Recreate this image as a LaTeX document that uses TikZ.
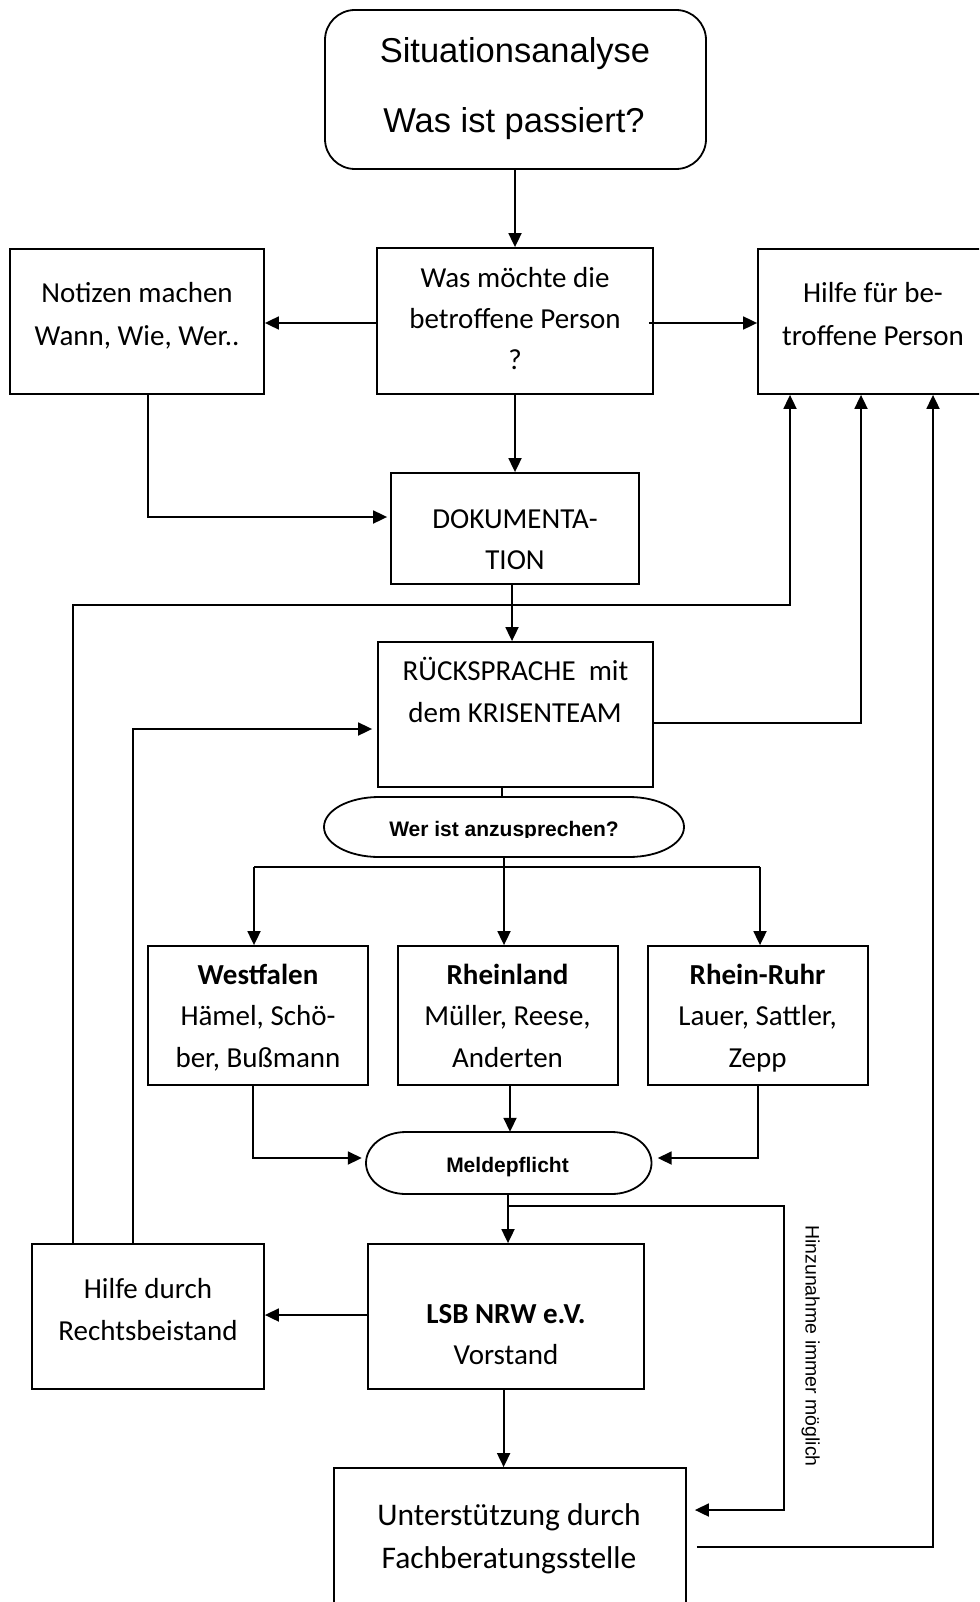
\documentclass[tikz,border=0pt]{standalone}
\usepackage{fontspec}
\setmainfont{Carlito}
\newfontfamily\arialf{Liberation Sans}
\usetikzlibrary{arrows.meta}
\begin{document}
\begin{tikzpicture}[x=1pt,y=-1pt,
  box/.style={draw, line width=1.8pt, rectangle, inner sep=0pt},
  hid/.style={draw=none, rectangle, inner sep=0pt},
  ln/.style={line width=1.8pt},
  arr/.style={line width=1.8pt, -{Triangle[length=14pt,width=13pt]}},
  txt/.style={inner sep=0pt, anchor=base, font=\fontsize{29}{35}\selectfont},
  txtB/.style={inner sep=0pt, anchor=base, font=\fontsize{29}{35}\selectfont\bfseries},
  txtU/.style={inner sep=0pt, anchor=base, font=\fontsize{31.5}{38}\selectfont},
  txtS/.style={inner sep=0pt, anchor=base, font=\arialf\fontsize{34.5}{40}\selectfont},
  txtE/.style={inner sep=0pt, anchor=base, font=\arialf\bfseries\fontsize{21}{25}\selectfont},
  txtH/.style={inner sep=0pt, anchor=base, font=\arialf\fontsize{19.5}{23}\selectfont}]
\useasboundingbox (0,0) rectangle (979,1602);
\fill[white] (0,0) rectangle (979,1602);
\clip (0,0) rectangle (979,1602);

% ---------- boxes ----------
\node[box, rounded corners=30pt, minimum width=381pt, minimum height=159pt] (sit) at (515.5,89.5) {};
\node[box, minimum width=254pt, minimum height=145pt] (notiz) at (137,321.5) {};
\node[box, minimum width=276pt, minimum height=146pt] (was) at (515,321) {};
\node[box, minimum width=230pt, minimum height=145pt] (hilfe) at (873,321.5) {};
\node[box, minimum width=248pt, minimum height=111pt] (doku) at (515,528.5) {};
\node[box, minimum width=275pt, minimum height=145pt] (rueck) at (515.5,714.5) {};
\node[hid, minimum width=360pt, minimum height=60pt] (wer) at (504,827) {};
\node[box, minimum width=220pt, minimum height=139pt] (west) at (258,1015.5) {};
\node[box, minimum width=220pt, minimum height=139pt] (rhein) at (508,1015.5) {};
\node[box, minimum width=220pt, minimum height=139pt] (ruhr) at (758,1015.5) {};
\node[hid, minimum width=285.5pt, minimum height=62pt] (meld) at (508.75,1163) {};
\node[box, minimum width=276pt, minimum height=145pt] (lsb) at (506,1316.5) {};
\node[box, minimum width=232pt, minimum height=145pt] (recht) at (148,1316.5) {};
\node[box, minimum width=352pt, minimum height=144pt] (unter) at (510,1540) {};

% capsules
\draw[ln] (379,797) -- (629,797) .. controls (659.4,797) and (684,810.4) .. (684,827)
  .. controls (684,843.6) and (659.4,857) .. (629,857) -- (379,857)
  .. controls (348.6,857) and (324,843.6) .. (324,827)
  .. controls (324,810.4) and (348.6,797) .. (379,797) -- cycle;
\draw[ln] (406,1132) -- (611.5,1132) .. controls (633.6,1132) and (651.5,1145.9) .. (651.5,1163)
  .. controls (651.5,1180.1) and (633.6,1194) .. (611.5,1194) -- (406,1194)
  .. controls (383.9,1194) and (366,1180.1) .. (366,1163)
  .. controls (366,1145.9) and (383.9,1132) .. (406,1132) -- cycle;

% ---------- texts ----------
\node[txtS] (sit1) at (515,63) {Situationsanalyse};
\node[txtS] (sit2) at (514,133) {Was ist passiert?};

\node[txt] (was1) at (515,287.5) {Was möchte die};
\node[txt] (was2) at (515,328.5) {betroffene Person};
\node[txt] (was3) at (515,369.5) {?};

\node[txt] (not1) at (137,303) {Notizen machen};
\node[txt] (not2) at (137,345) {Wann, Wie, Wer..};

\node[txt] (hil1) at (873,303) {Hilfe für be-};
\node[txt] (hil2) at (873,345) {troffene Person};

\node[txt] (dok1) at (515,528) {DOKUMENTA-};
\node[txt] (dok2) at (515,569) {TION};

\node[txt] (rue1) at (515.5,680) {RÜCKSPRACHE\ \ mit};
\node[txt] (rue2) at (515,722) {dem KRISENTEAM};

\begin{scope}
\clip (324,797) rectangle (684,837);
\node[txtE] (wer1) at (504,836) {Wer ist anzusprechen?};
\end{scope}

\node[txtB] (wes1) at (258,984) {Westfalen};
\node[txt] (wes2) at (258,1025.5) {Hämel, Schö-};
\node[txt] (wes3) at (258,1067) {ber, Bußmann};

\node[txtB] (rhe1) at (507.5,984) {Rheinland};
\node[txt] (rhe2) at (507.5,1025.5) {Müller, Reese,};
\node[txt] (rhe3) at (507.5,1067) {Anderten};

\node[txtB] (ruh1) at (757.6,984) {Rhein-Ruhr};
\node[txt] (ruh2) at (757.6,1025.5) {Lauer, Sattler,};
\node[txt] (ruh3) at (757.6,1067) {Zepp};

\node[txtE] (mel1) at (507.5,1172) {Meldepflicht};

\node[txtB] (lsb1) at (506,1323) {LSB NRW e.V.};
\node[txt] (lsb2) at (506,1364) {Vorstand};

\node[txt] (rec1) at (148,1298) {Hilfe durch};
\node[txt] (rec2) at (148,1340) {Rechtsbeistand};

\node[txtU] (unt1) at (509,1525) {Unterstützung durch};
\node[txtU] (unt2) at (509,1568) {Fachberatungsstelle};

\node[txtH, rotate=-90] (hinz) at (805.5,1346) {Hinzunahme immer möglich};

% ---------- coordinates ----------
\coordinate (jm) at (504,867);
\coordinate (jl) at (254,867);
\coordinate (jr) at (760,867);
\coordinate (c1) at (790,605);
\coordinate (c2) at (784,1206);
\coordinate (c3) at (508,1206);

% ---------- connectors ----------
\draw[arr] (sit.south -| 515,0) -- (was.north -| 515,0);
\draw[arr] (was.west |- 0,323) -- (notiz.east |- 0,323);
\draw[arr] ([xshift=-5pt]was.east |- 0,323) -- (hilfe.west |- 0,323);
\draw[arr] (was.south -| 515,0) -- (doku.north -| 515,0);
\draw[arr, shorten >=3pt] (notiz.south -| 148,0) |- (doku.west |- 0,517);
\draw[arr] (doku.south -| 512,0) -- (rueck.north -| 512,0);

\draw[arr] (recht.north -| 73,0) |- (c1) -- (hilfe.south -| c1);
\draw[arr, shorten >=5pt] (recht.north -| 133,0) |- (rueck.west |- 0,729);
\draw[arr] (rueck.east |- 0,723) -| (hilfe.south -| 861,0);

\draw[ln] (rueck.south -| 502,0) -- (wer.north -| 502,0);
\draw[ln] (wer.south -| jm) -- (jm);
\draw[ln] (jl) -- (jr);
\draw[arr] (jl) -- (west.north -| jl);
\draw[arr] (jm) -- (rhein.north -| jm);
\draw[arr] (jr) -- (ruhr.north -| jr);

\draw[arr, shorten >=4pt] (west.south -| 253,0) |- (meld.west |- 0,1158);
\draw[arr] (rhein.south -| 510,0) -- (meld.north -| 510,0);
\draw[arr, shorten >=6pt] (ruhr.south -| 758,0) |- (meld.east |- 0,1158);

\draw[arr] (meld.south -| c3) -- (lsb.north -| c3);
\draw[arr, shorten >=8pt] (c3) -- (c2) |- (unter.east |- 0,1510);
\draw[arr] (lsb.west |- 0,1315) -- (recht.east |- 0,1315);
\draw[arr] (lsb.south -| 503.6,0) -- (unter.north -| 503.6,0);
\draw[arr, shorten <=10pt] (unter.east |- 0,1547) -| (hilfe.south -| 933,0);
\end{tikzpicture}
\end{document}
